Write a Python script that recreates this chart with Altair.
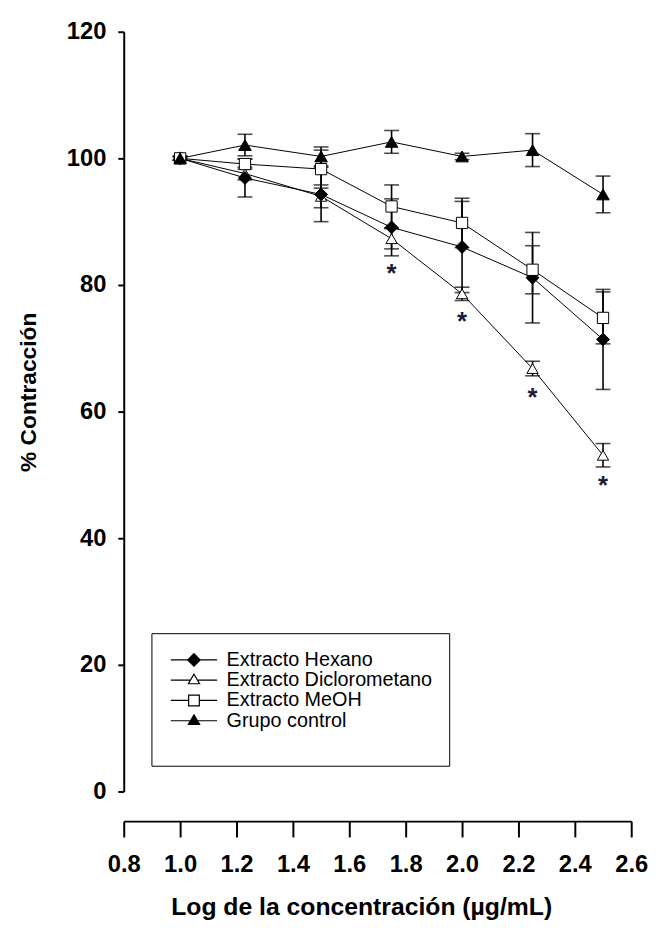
import altair as alt
import pandas as pd

# ---------------- data ----------------
x_log = [1.0, 1.23, 1.5, 1.75, 2.0, 2.25, 2.5]
series_names = ["Extracto Hexano", "Extracto Diclorometano", "Extracto MeOH", "Grupo control"]

hexano_mean = [100.0, 96.9, 94.3, 89.1, 86.0, 81.15, 71.4]
hexano_err = [0.3, 3.0, 4.3, 4.5, 7.2, 7.15, 7.9]
diclo_mean = [100.0, 97.6, 94.0, 87.3, 78.6, 66.8, 53.1]
diclo_err = [0.3, 1.0, 1.8, 1.6, 1.05, 1.15, 1.85]
meoh_mean = [100.0, 99.1, 98.3, 92.4, 89.8, 82.4, 74.8]
meoh_err = [0.3, 0.8, 3.0, 3.4, 3.9, 3.8, 4.1]
control_mean = [100.0, 102.1, 100.3, 102.6, 100.3, 101.3, 94.3]
control_err = [0.3, 1.7, 1.5, 1.8, 0.5, 2.6, 2.9]

star_x = [1.75, 2.0, 2.25, 2.5]
star_y = [82.6, 75.0, 63.1, 49.1]

x_ticks = [0.8, 1.0, 1.2, 1.4, 1.6, 1.8, 2.0, 2.2, 2.4, 2.6]
y_ticks = [0, 20, 40, 60, 80, 100, 120]

# ---------------- styles ----------------
style_shape = {
    "Extracto Hexano": "diamond",
    "Extracto Diclorometano": "triangle-up",
    "Extracto MeOH": "square",
    "Grupo control": "triangle-up",
}
style_fill = {
    "Extracto Hexano": "black",
    "Extracto Diclorometano": "white",
    "Extracto MeOH": "white",
    "Grupo control": "black",
}
style_size = {
    "Extracto Hexano": 170,
    "Extracto Diclorometano": 130,
    "Extracto MeOH": 130,
    "Grupo control": 160,
}
legend_paths = [
    "M-3.9,0H-1.05M1.05,0H3.9M-1.05,0L0,-1.05L1.05,0L0,1.05Z",
    "M-3.9,0H-0.59M0.59,0H3.9M0,-1.0L0.95,0.6L-0.95,0.6Z",
    "M-3.9,0H-0.9M0.9,0H3.9M-0.9,-0.9H0.9V0.9H-0.9Z",
    "M-3.9,0H-0.59M0.59,0H3.9M0,-1.0L0.95,0.6L-0.95,0.6Z",
]
legend_fills = ["black", "white", "white", "black"]

draw_order = ["Extracto Diclorometano", "Extracto Hexano", "Extracto MeOH", "Grupo control"]
values = {
    "Extracto Hexano": (hexano_mean, hexano_err),
    "Extracto Diclorometano": (diclo_mean, diclo_err),
    "Extracto MeOH": (meoh_mean, meoh_err),
    "Grupo control": (control_mean, control_err),
}
rows = []
for name in draw_order:
    means, errs = values[name]
    for xv, m, e in zip(x_log, means, errs):
        rows.append({"serie": name, "x": xv, "y": m, "lo": m - e, "hi": m + e})
df = pd.DataFrame(rows)
df["shape"] = df["serie"].map(style_shape)
df["fill"] = df["serie"].map(style_fill)
df["size"] = df["serie"].map(style_size)

stars = pd.DataFrame({"x": star_x, "y": star_y})

FONT = "Liberation Sans"

xscale = alt.Scale(domain=[0.8, 2.6], nice=False, zero=False)
yscale = alt.Scale(domain=[0, 120], nice=False, zero=True)

xaxis = alt.Axis(
    values=x_ticks, format=".1f", title="Log de la concentración (µg/mL)",
    offset=30, tickSize=16, tickWidth=2, tickColor="black",
    domainColor="black", domainWidth=2, labelPadding=16,
    labelFont=FONT, labelFontSize=24, labelFontWeight="bold", labelColor="black",
    labelFlush=False, labelOverlap=False,
    titleFont=FONT, titleFontSize=25, titleFontWeight="bold", titleColor="black",
    titleX=240, titleY=94, titleBaseline="alphabetic", titleAlign="center",
    grid=False,
)
yaxis = alt.Axis(
    values=y_ticks, format="d", title="% Contracción",
    tickSize=6, tickWidth=2, tickColor="black",
    domainColor="black", domainWidth=2, labelPadding=12,
    labelFont=FONT, labelFontSize=24, labelFontWeight="bold", labelColor="black",
    labelFlush=False, labelOverlap=False,
    titleFont=FONT, titleFontSize=23, titleFontWeight="bold", titleColor="black",
    titleX=-84, titleY=364, titleAngle=270, titleAlign="center", titleBaseline="bottom",
    grid=False,
)

X = alt.X("x:Q", scale=xscale, axis=xaxis)
Y = alt.Y("y:Q", scale=yscale, axis=yaxis)

base = alt.Chart(df)

lines = base.mark_line(color="black", strokeWidth=1).encode(
    x=X, y=Y, detail="serie:N", order="x:Q"
)

errbars = base.mark_errorbar(
    color="black",
    rule={"strokeWidth": 1.6, "color": "black"},
    ticks={"size": 15, "thickness": 1.6, "color": "black"},
).encode(
    x=X,
    y=alt.Y("lo:Q", scale=yscale, axis=yaxis),
    y2="hi:Q",
    detail="serie:N",
)

points = base.mark_point(filled=True, stroke="black", strokeWidth=1, opacity=1).encode(
    x=X, y=Y,
    shape=alt.Shape("shape:N", scale=None),
    fill=alt.Fill("fill:N", scale=None),
    size=alt.Size("size:Q", scale=None),
)

star_layer = alt.Chart(stars).mark_text(
    text="*", font=FONT, fontSize=26, fontWeight="bold", color="#1b1b3a",
    baseline="middle", align="center", dx=0, dy=6,
).encode(x=X, y=Y)

legend = alt.Legend(
    title=" ", titleOrient="bottom", titleFontSize=14, titlePadding=4,
    orient="none", legendX=28, legendY=608,
    padding=17, strokeColor="black", fillColor="white",
    labelFont=FONT, labelFontSize=20, labelColor="black", labelLimit=0,
    symbolSize=144, symbolStrokeColor="black", symbolStrokeWidth=1.2,
    symbolOffset=16, labelOffset=23, rowPadding=0.5,
)
legend_layer = base.transform_filter("false").mark_point(
    filled=True, stroke="black", strokeWidth=1.2, opacity=1
).encode(
    x=X, y=Y,
    shape=alt.Shape("serie:N", scale=alt.Scale(domain=series_names, range=legend_paths), legend=legend),
    fill=alt.Fill("serie:N", scale=alt.Scale(domain=series_names, range=legend_fills), legend=legend),
)

chart = alt.layer(lines, errbars, points, star_layer, legend_layer).properties(
    width=513, height=768,
    autosize=alt.AutoSizeParams(type="none"),
    padding={"left": 117, "top": 19, "right": 20, "bottom": 129},
    background="white",
).configure_view(stroke=None)

chart.save("out.html", embed_options={"renderer": "svg", "actions": False})
